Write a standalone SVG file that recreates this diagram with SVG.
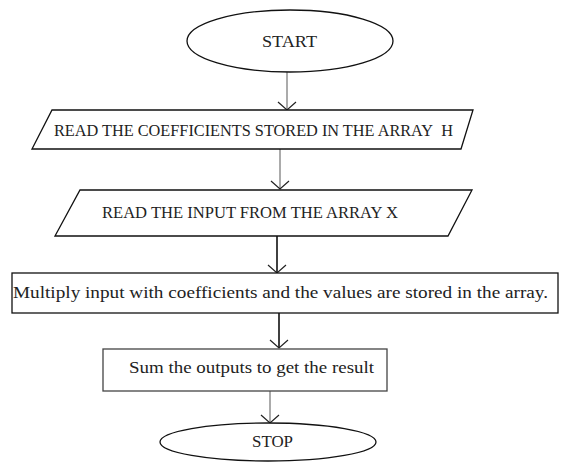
<svg xmlns="http://www.w3.org/2000/svg" width="561" height="462" viewBox="0 0 561 462">
  <defs>
    <marker id="arr" markerUnits="userSpaceOnUse" markerWidth="20" markerHeight="24" refX="0" refY="0" viewBox="-10 -12 12 24" orient="auto" overflow="visible">
      <path d="M -8 -9 L 0 0 L -8 9" fill="none" stroke="#222" stroke-width="1.2"/>
    </marker>
  </defs>
  <style>
    .shape { fill: #ffffff; stroke: #111; stroke-width: 1.3; }
    .lbl { font-family: 'Liberation Serif', 'DejaVu Serif', 'Times New Roman', serif; font-size: 16px; fill: #222; }
    .thin { stroke: #666; stroke-width: 1.1; fill: none; }
    .thick { stroke: #111; stroke-width: 1.6; fill: none; }
  </style>
  <rect width="561" height="462" fill="#ffffff"/>
  <g id="connectors">
    <line class="thin" x1="287" y1="72" x2="287" y2="110" marker-end="url(#arr)"/>
    <line class="thin" x1="280" y1="149" x2="280" y2="189" marker-end="url(#arr)"/>
    <line class="thick" x1="277" y1="236" x2="277" y2="273" marker-end="url(#arr)"/>
    <line class="thick" x1="279" y1="313" x2="279" y2="348" marker-end="url(#arr)"/>
    <line class="thin" x1="270" y1="391" x2="270" y2="423" marker-end="url(#arr)"/>
  </g>
  <g id="start">
    <ellipse class="shape" cx="290" cy="41" rx="103" ry="31"/>
    <text class="lbl" font-family="Liberation Serif, serif" x="262" y="47" textLength="55" lengthAdjust="spacingAndGlyphs">START</text>
  </g>
  <g id="read-coefficients">
    <polygon class="shape" points="52,110 473,110 461,149 32,149"/>
    <text class="lbl" font-family="Liberation Serif, serif" x="54" y="136" textLength="399" lengthAdjust="spacingAndGlyphs">READ THE COEFFICIENTS STORED IN THE ARRAY&#160; H</text>
  </g>
  <g id="read-input">
    <polygon class="shape" points="80,190 472,190 448,236 55,236"/>
    <text class="lbl" font-family="Liberation Serif, serif" x="102" y="218" textLength="296" lengthAdjust="spacingAndGlyphs">READ THE INPUT FROM THE ARRAY X</text>
  </g>
  <g id="multiply">
    <rect class="shape" x="12" y="273" width="546" height="40"/>
    <text class="lbl" font-family="Liberation Serif, serif" x="13" y="298" textLength="535" lengthAdjust="spacingAndGlyphs">Multiply input with coefficients and the values are stored in the array.</text>
  </g>
  <g id="sum">
    <rect class="shape" x="103" y="349" width="284" height="42" style="stroke:#444"/>
    <text class="lbl" font-family="Liberation Serif, serif" x="129" y="373" textLength="245" lengthAdjust="spacingAndGlyphs">Sum the outputs to get the result</text>
  </g>
  <g id="stop">
    <ellipse class="shape" cx="268" cy="442" rx="108" ry="19"/>
    <text class="lbl" font-family="Liberation Serif, serif" x="252" y="447" textLength="41" lengthAdjust="spacingAndGlyphs">STOP</text>
  </g>
</svg>
